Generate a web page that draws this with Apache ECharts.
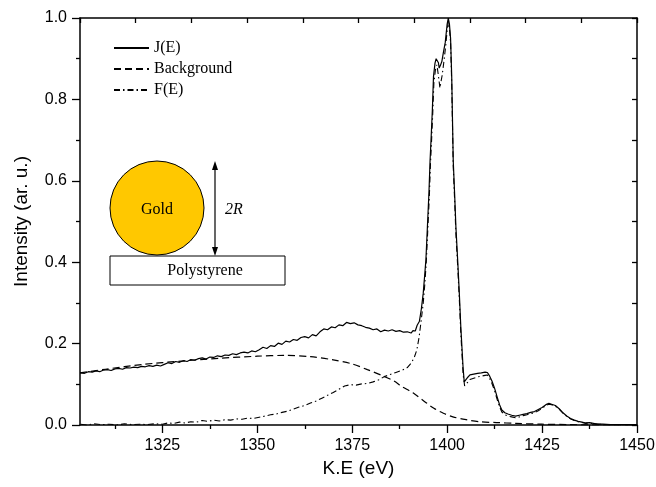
<!DOCTYPE html>
<html>
<head>
<meta charset="utf-8">
<script src="https://cdn.jsdelivr.net/npm/echarts@6/dist/echarts.min.js"></script>
<style>
  html, body { margin: 0; padding: 0; background: #fff; }
  #chart { width: 656px; height: 487px; }
</style>
</head>
<body>
<div id="chart"></div>
<script>
// Measured spectrum J(E): [kinetic energy (eV), intensity]
const jE = [
  [1303.3,0.128],[1304.5,0.127],[1305.5,0.131],[1306.5,0.130],[1307.5,0.133],[1308.5,0.131],
  [1309.5,0.135],[1310.5,0.136],[1311.5,0.134],[1312.5,0.138],[1313.5,0.139],[1314.5,0.137],
  [1315.5,0.141],[1316.5,0.140],[1317.5,0.142],[1318.5,0.141],[1319.5,0.144],[1320.5,0.143],
  [1321.5,0.146],[1322.5,0.144],[1323.5,0.147],[1324.5,0.145],[1325.5,0.149],[1326.5,0.153],
  [1327.5,0.151],[1328.5,0.156],[1329.5,0.154],[1330.5,0.158],[1331.5,0.156],[1332.5,0.161],
  [1333.5,0.159],[1334.5,0.163],[1335.5,0.165],[1336.5,0.162],[1337.5,0.167],[1338.5,0.166],
  [1339.5,0.170],[1340.5,0.168],[1341.5,0.172],[1342.5,0.171],[1343.5,0.175],[1344.5,0.173],
  [1345.5,0.177],[1346.5,0.179],[1347.5,0.177],[1348.5,0.182],[1349.5,0.180],[1350.5,0.185],
  [1351.5,0.191],[1352.5,0.188],[1353.5,0.195],[1354.5,0.193],[1355.5,0.201],[1356.5,0.198],
  [1357.5,0.206],[1358.5,0.204],[1359.5,0.210],[1360.5,0.208],[1361.5,0.215],[1362.5,0.217],
  [1363.5,0.214],[1364.5,0.222],[1365.5,0.219],[1366.5,0.229],[1367.5,0.236],[1368.5,0.234],
  [1369.5,0.241],[1370.5,0.239],[1371.5,0.246],[1372.5,0.244],[1373.5,0.252],[1374.5,0.249],
  [1375.5,0.251],[1376.5,0.246],[1377.5,0.244],[1378.5,0.240],[1379.5,0.238],[1380.5,0.234],
  [1381.5,0.236],[1382.5,0.229],[1383.5,0.233],[1384.5,0.231],[1385.5,0.234],[1386.5,0.230],
  [1387.5,0.232],[1388.5,0.228],[1389.5,0.229],[1390.5,0.226],[1391.0,0.232],[1391.6,0.231],
  [1392.1,0.245],[1392.7,0.255],[1393.2,0.285],[1393.7,0.324],[1394.1,0.370],[1394.4,0.405],
  [1394.8,0.487],[1395.2,0.570],[1395.5,0.650],[1395.8,0.710],[1396.1,0.774],[1396.4,0.856],
  [1396.8,0.889],[1397.1,0.900],[1397.4,0.903],[1397.7,0.890],[1397.9,0.877],[1398.2,0.883],
  [1398.6,0.893],[1399.0,0.915],[1399.5,0.940],[1400.0,0.985],[1400.3,1.000],[1400.6,0.985],
  [1400.9,0.950],[1401.2,0.856],[1401.6,0.650],[1402.0,0.560],[1402.3,0.487],[1402.8,0.400],
  [1403.2,0.324],[1403.6,0.240],[1403.9,0.190],[1404.2,0.140],[1404.5,0.106],[1405.0,0.112],
  [1405.5,0.118],[1406.0,0.123],[1406.5,0.122],[1407.0,0.125],[1407.5,0.124],[1408.0,0.127],
  [1408.5,0.125],[1409.0,0.128],[1409.5,0.127],[1410.0,0.130],[1410.6,0.129],[1411.2,0.120],
  [1411.8,0.108],[1412.5,0.090],[1413.2,0.068],[1413.8,0.050],[1414.4,0.037],[1415.2,0.030],
  [1416.0,0.027],[1417.0,0.024],[1418.0,0.022],[1419.0,0.024],[1420.0,0.026],[1421.0,0.028],
  [1422.0,0.031],[1423.0,0.033],[1424.0,0.038],[1425.0,0.043],[1426.0,0.050],[1426.8,0.053],
  [1427.5,0.051],[1428.5,0.048],[1429.5,0.040],[1430.5,0.030],[1431.5,0.022],[1432.5,0.016],
  [1433.5,0.012],[1434.5,0.009],[1435.5,0.007],[1436.5,0.005],[1437.5,0.006],[1438.5,0.004],
  [1439.5,0.002],[1441.0,0.002],[1443.0,0.001],[1446.0,0.001],[1450.0,0.001]
];

// Inelastic background
const background = [
  [1303.3,0.128],[1310,0.137],[1320,0.149],[1330,0.157],[1340,0.164],[1350,0.169],
  [1357,0.171],[1364,0.168],[1370,0.160],[1375,0.150],[1379,0.136],[1383,0.121],
  [1386,0.108],[1388,0.095],[1391,0.079],[1394,0.058],[1396.5,0.041],[1399,0.029],
  [1401.5,0.020],[1405,0.013],[1408.5,0.008],[1413,0.006],[1418,0.004],[1425,0.002],
  [1432,0.001],[1440,0.000],[1450,0.000]
];

// Background-subtracted spectrum F(E)
const fE = [
  [1303.5,0.002],[1305,0.000],[1307,0.003],[1309,0.001],[1311,0.002],[1313,0.000],
  [1315,0.003],[1317,0.001],[1319,0.002],[1321,0.001],[1323,0.003],[1325,0.002],
  [1326.5,0.005],[1328,0.004],[1329.5,0.007],[1331,0.005],[1332.5,0.008],[1334,0.007],
  [1335.5,0.011],[1337,0.009],[1338.5,0.012],[1340,0.010],[1341.5,0.013],[1343,0.012],
  [1344.5,0.015],[1346,0.014],[1347.5,0.017],[1349,0.016],[1350.5,0.019],[1352,0.022],
  [1353.5,0.025],[1355,0.027],[1356.5,0.031],[1358,0.034],[1359.5,0.039],[1361,0.044],
  [1362.5,0.048],[1364,0.054],[1365.5,0.059],[1367,0.066],[1368.5,0.073],[1370,0.080],
  [1371.5,0.088],[1373,0.096],[1374.5,0.099],[1376,0.098],[1377.5,0.101],[1379,0.102],
  [1380.5,0.106],[1382,0.111],[1383.5,0.119],[1385,0.124],[1386.5,0.129],[1388,0.134],
  [1389.5,0.141],[1390.5,0.152],[1391.3,0.165],[1392.0,0.184],[1392.6,0.215],[1393.2,0.260],
  [1393.7,0.300],[1394.1,0.345],[1394.5,0.400],[1394.9,0.480],[1395.3,0.560],[1395.6,0.640],
  [1395.9,0.700],[1396.2,0.765],[1396.5,0.840],[1396.9,0.872],[1397.3,0.885],[1397.7,0.858],
  [1398.1,0.828],[1398.4,0.845],[1398.7,0.860],[1399.1,0.890],[1399.6,0.930],[1400.0,0.970],
  [1400.3,0.990],[1400.6,0.975],[1400.9,0.940],[1401.2,0.840],[1401.6,0.635],[1402.0,0.545],
  [1402.3,0.470],[1402.8,0.385],[1403.2,0.310],[1403.6,0.225],[1403.9,0.175],[1404.2,0.125],
  [1404.6,0.096],[1405.0,0.100],[1405.5,0.106],[1406.0,0.112],[1406.5,0.111],[1407.0,0.115],
  [1407.5,0.114],[1408.0,0.118],[1408.5,0.117],[1409.0,0.120],[1409.5,0.119],[1410.0,0.122],
  [1410.6,0.123],[1411.2,0.114],[1411.8,0.102],[1412.5,0.084],[1413.2,0.062],[1413.8,0.045],
  [1414.4,0.032],[1415.2,0.025],[1416.0,0.022],[1417.0,0.020],[1418.0,0.018],[1419.0,0.020],
  [1420.0,0.023],[1421.0,0.025],[1422.0,0.028],[1423.0,0.030],[1424.0,0.035],[1425.0,0.041],
  [1426.0,0.048],[1426.8,0.051],[1427.5,0.050],[1428.5,0.046],[1429.5,0.039],[1430.5,0.029],
  [1431.5,0.021],[1432.5,0.015],[1433.5,0.011],[1434.5,0.008],[1435.5,0.006],[1436.5,0.004],
  [1437.5,0.005],[1438.5,0.003],[1440.0,0.002],[1442.0,0.001],[1445.0,0.001],[1450.0,0.001]
];

// Axis ranges and tick positions
const xRange = [1303.3, 1450];
const xMajorTicks = [1325, 1350, 1375, 1400, 1425, 1450];
const xMinorTicks = [1312.5, 1337.5, 1362.5, 1387.5, 1412.5, 1437.5];
const yRange = [0, 1];
const seriesNames = ['J(E)', 'Background', 'F(E)'];

const AXIS_FONT = 'Liberation Sans, Arial, sans-serif';
const SERIF = 'Liberation Serif, Times New Roman, serif';

const chart = echarts.init(document.getElementById('chart'), null, { renderer: 'canvas' });

const lineAxis = { show: true, lineStyle: { color: '#000', width: 1.5 } };

chart.setOption({
  animation: false,
  backgroundColor: '#fff',
  grid: { left: 80, top: 18, right: 19, bottom: 62, containLabel: false, outerBoundsMode: 'none' },
  legend: {
    orient: 'vertical',
    left: 108,
    top: 35,
    itemWidth: 35,
    itemHeight: 12,
    itemGap: 5,
    data: seriesNames,
    itemStyle: { opacity: 0 },
    textStyle: { fontFamily: SERIF, fontSize: 16, color: '#000' }
  },
  xAxis: [
    {
      type: 'value', position: 'bottom', min: xRange[0], max: xRange[1],
      name: 'K.E (eV)', nameLocation: 'middle', nameGap: 33,
      nameTextStyle: { fontFamily: AXIS_FONT, fontSize: 19, color: '#000' },
      axisLine: lineAxis,
      axisTick: { show: true, inside: false, length: 8, customValues: xMajorTicks, lineStyle: { color: '#000', width: 1.3 } },
      axisLabel: { show: true, margin: 13, customValues: xMajorTicks, fontFamily: AXIS_FONT, fontSize: 16, color: '#000',
        formatter: v => String(v) },
      splitLine: { show: false }
    },
    {
      type: 'value', position: 'bottom', min: xRange[0], max: xRange[1],
      axisLine: { show: false },
      axisTick: { show: true, inside: false, length: 4, customValues: xMinorTicks, lineStyle: { color: '#000', width: 1.3 } },
      axisLabel: { show: false },
      splitLine: { show: false }
    },
    {
      type: 'value', position: 'top', min: 0, max: 10, interval: 1,
      axisLine: lineAxis,
      axisTick: { show: true, inside: true, length: 5, lineStyle: { color: '#000', width: 1.3 } },
      axisLabel: { show: false },
      splitLine: { show: false }
    }
  ],
  yAxis: [
    {
      type: 'value', position: 'left', min: yRange[0], max: yRange[1], interval: 0.2,
      name: 'Intensity (ar. u.)', nameLocation: 'middle', nameGap: 49,
      nameTextStyle: { fontFamily: AXIS_FONT, fontSize: 19, color: '#000' },
      axisLine: lineAxis,
      axisTick: { show: true, inside: false, length: 8, lineStyle: { color: '#000', width: 1.3 } },
      minorTick: { show: true, splitNumber: 2, length: 4, lineStyle: { color: '#000', width: 1.3 } },
      axisLabel: { margin: 13, fontFamily: AXIS_FONT, fontSize: 16, color: '#000',
        formatter: v => v.toFixed(1) },
      splitLine: { show: false }
    },
    {
      type: 'value', position: 'right', min: yRange[0], max: yRange[1], interval: 0.1,
      axisLine: lineAxis,
      axisTick: { show: true, inside: true, length: 5, lineStyle: { color: '#000', width: 1.3 } },
      axisLabel: { show: false },
      splitLine: { show: false }
    }
  ],
  series: [
    {
      name: seriesNames[0], type: 'line', data: jE, xAxisIndex: 0, yAxisIndex: 0,
      symbol: 'none', lineStyle: { color: '#000', width: 1.2, type: 'solid' },
      itemStyle: { color: '#000' }
    },
    {
      name: seriesNames[1], type: 'line', data: background, smooth: 0.3, xAxisIndex: 0, yAxisIndex: 0,
      symbol: 'none', lineStyle: { color: '#000', width: 1.2, type: [7, 4] },
      itemStyle: { color: '#000' }
    },
    {
      name: seriesNames[2], type: 'line', data: fE, xAxisIndex: 0, yAxisIndex: 0,
      symbol: 'none', lineStyle: { color: '#000', width: 1.1, type: [6, 3, 1.5, 3] },
      itemStyle: { color: '#000' }
    }
  ],
  graphic: [
    // Gold nanoparticle sitting on the polystyrene substrate
    { type: 'circle', shape: { cx: 157, cy: 208, r: 47 },
      style: { fill: '#FFC800', stroke: '#000', lineWidth: 1 } },
    { type: 'text', x: 157, y: 210,
      style: { text: 'Gold', fill: '#000', font: '16px ' + SERIF, align: 'center', verticalAlign: 'middle' } },
    { type: 'rect', shape: { x: 110, y: 256, width: 175, height: 29 },
      style: { fill: '#fff', stroke: '#000', lineWidth: 1 } },
    { type: 'text', x: 205, y: 271,
      style: { text: 'Polystyrene', fill: '#000', font: '16px ' + SERIF, align: 'center', verticalAlign: 'middle' } },
    // Diameter arrow
    { type: 'line', shape: { x1: 215, y1: 168, x2: 215, y2: 249 },
      style: { stroke: '#000', lineWidth: 1.2 } },
    { type: 'polygon', shape: { points: [[215, 161], [212, 170], [218, 170]] },
      style: { fill: '#000' } },
    { type: 'polygon', shape: { points: [[215, 256], [212, 247], [218, 247]] },
      style: { fill: '#000' } },
    { type: 'text', x: 225, y: 210,
      style: { text: '2R', fill: '#000', font: 'italic 16px ' + SERIF, align: 'left', verticalAlign: 'middle' } }
  ]
});
</script>
</body>
</html>
